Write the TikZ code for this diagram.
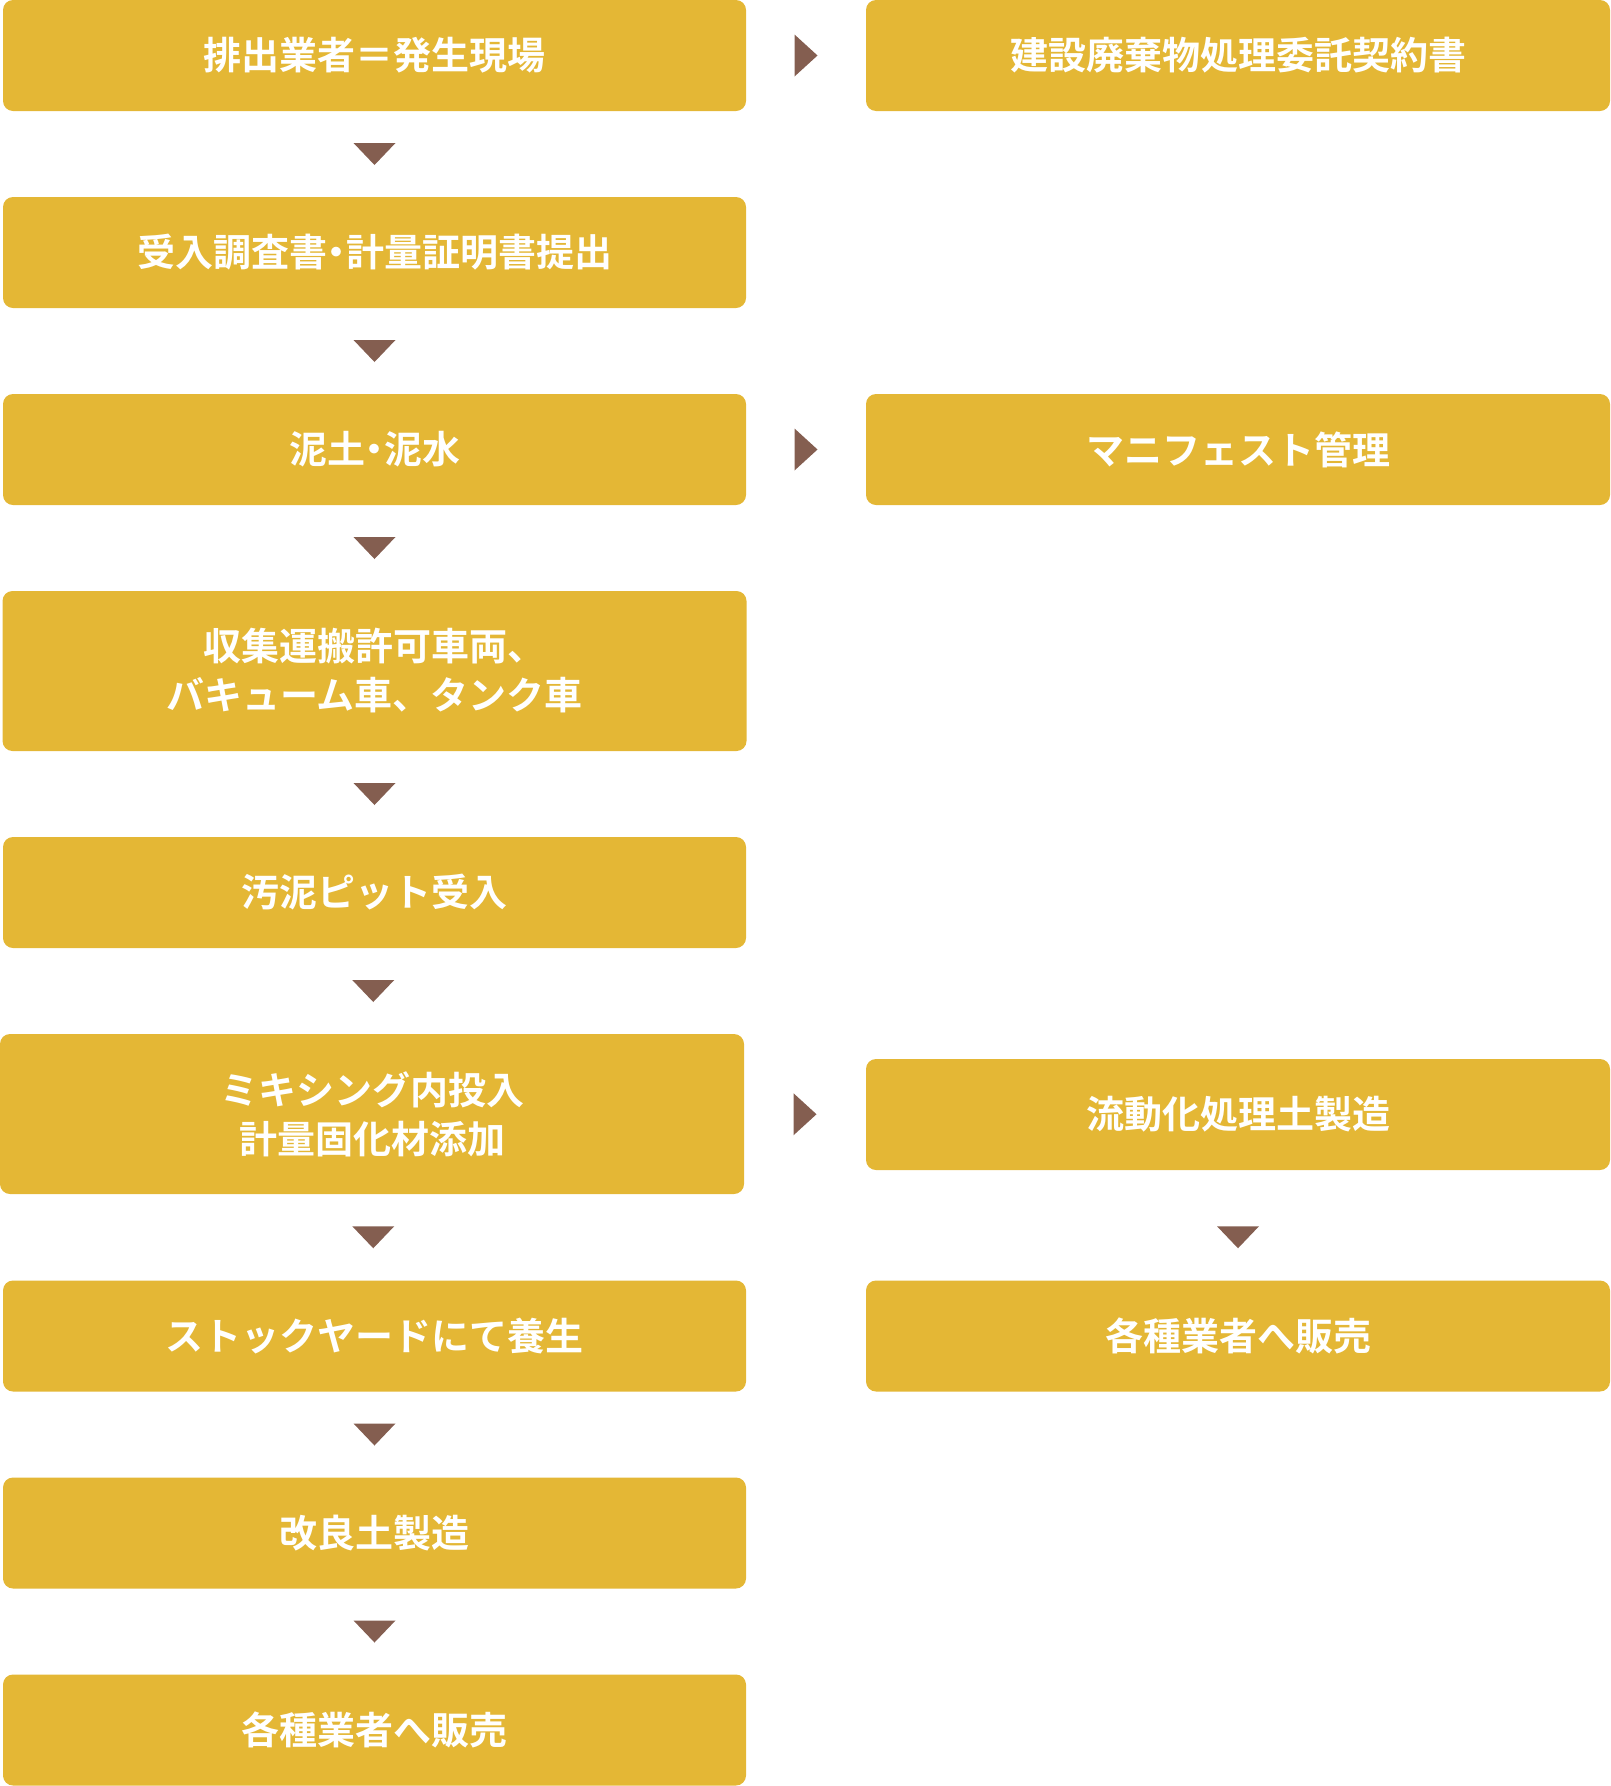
\documentclass[tikz,border=0pt]{standalone}
\usepackage{fontspec}
\setmainfont{Noto Sans CJK JP}[BoldFont=* Bold]
\usetikzlibrary{calc}
\definecolor{gold}{RGB}{228,183,53}
\definecolor{mark}{RGB}{132,94,80}
\tikzset{
  box/.style={fill=gold, rounded corners=10pt, inner sep=0pt, text=white,
    font=\fontsize{38pt}{49pt}\selectfont\bfseries, align=center},
  single/.style={box, minimum width=743pt, minimum height=111pt},
  double/.style={box, minimum width=744pt, minimum height=160pt},
  markc/.style={fill=mark}
}
\newcommand{\dmarkx}[1]{\fill[markc] (#1) ++(-21,-11) -- ++(42,0) -- ++(-21,22) -- cycle;}
\newcommand{\rmarkx}[1]{\fill[markc] (#1) ++(-11.5,-21) -- ++(0,42) -- ++(23,-21) -- cycle;}
\newcommand{\ndot}{\kern-9.5pt・\kern-9.5pt}
\begin{document}
\begin{tikzpicture}[x=1pt,y=-1pt]
\useasboundingbox (0,0) rectangle (1610,1786);
% left column
\node[single] (n1) at (374.5,55.5) {排出業者＝発生現場};
\node[single] (n2) at (374.5,252.5) {受入調査書\ndot 計量証明書提出};
\node[single] (n3) at (374.5,449.5) {泥土\ndot 泥水};
\node[double] (n4) at (374.5,671) {収集運搬許可車両、\\バキューム車、タンク車};
\node[single] (n5) at (374.5,892.5) {汚泥ピット受入};
\node[double] (n6) at (372,1114) {ミキシング内投入\\計量固化材添加};
\node[single] (n7) at (374.5,1336) {ストックヤードにて養生};
\node[single] (n8) at (374.5,1533) {改良土製造};
\node[single] (n9) at (374.5,1730) {各種業者へ販売};
% right column
\node[single, minimum width=744pt] (r1) at (1238,55.5) {建設廃棄物処理委託契約書};
\node[single, minimum width=744pt] (r3) at (1238,449.5) {マニフェスト管理};
\node[single, minimum width=744pt] (r6) at (1238,1114.5) {流動化処理土製造};
\node[single, minimum width=744pt] (r7) at (1238,1336) {各種業者へ販売};
% down marks
\foreach \a/\b in {n1/n2,n2/n3,n3/n4,n4/n5,n5/n6,n6/n7,n7/n8,n8/n9}{
  \coordinate (m-\a) at ($(\a.south)!0.5!(\b.north)$);
  \dmarkx{m-\a}
}
\coordinate (mr67) at (m-n6 -| r7.north);
\dmarkx{mr67}
% right marks
\foreach \a/\b in {n1/r1,n3/r3,n6/r6}{
  \coordinate (h-\a) at ($(\a.east)!0.5!(\b.west)$);
  \rmarkx{h-\a}
}
\end{tikzpicture}
\end{document}
